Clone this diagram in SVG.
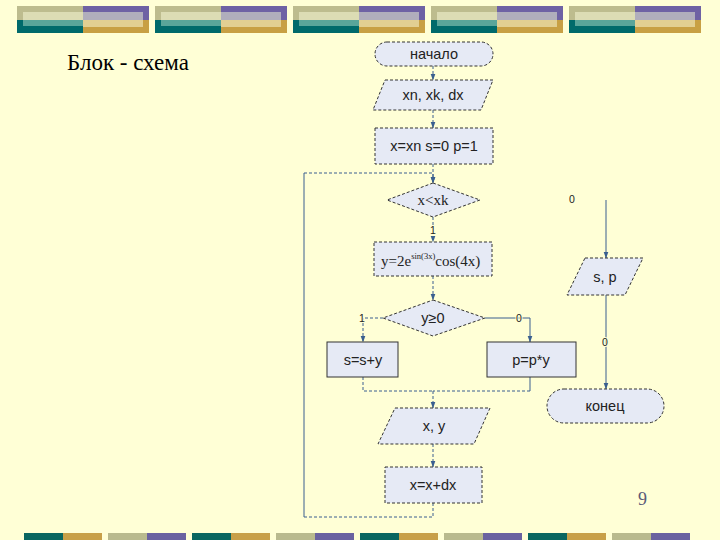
<svg xmlns="http://www.w3.org/2000/svg" width="720" height="540" viewBox="0 0 720 540">
<style>
.node{fill:#E6EAF5;stroke:#333;stroke-width:1;stroke-dasharray:3,2}
.solidnode{fill:#E6EAF5;stroke:#333;stroke-width:1}
.t{font-family:"Liberation Sans",Arial,sans-serif;font-size:14.5px;fill:#222;text-anchor:middle}
.ts{font-family:"Liberation Serif","Times New Roman",serif;font-size:15px;fill:#222}
.lbl{font-family:"Liberation Sans",Arial,sans-serif;font-size:10.5px;fill:#222;text-anchor:middle;paint-order:stroke;stroke:#FFFFD6;stroke-width:2}
.c{fill:none;stroke:#3A5F8F;stroke-width:1}
.d{stroke-dasharray:3,2}
</style>
<defs>
<marker id="arr" markerWidth="7" markerHeight="6" refX="6.5" refY="3" orient="auto" markerUnits="userSpaceOnUse" viewBox="0 0 7 6">
<path d="M0,0.5 L7,3 L0,5.5 Z" fill="#3A5F8F"/>
</marker>
<g id="topbar">
<rect x="0" y="6" width="66" height="14" fill="#BDBC8E"/>
<rect x="0" y="20" width="66" height="13" fill="#006A6B"/>
<rect x="66" y="6" width="66" height="14" fill="#6E62A4"/>
<rect x="66" y="20" width="66" height="13" fill="#C8A044"/>
<rect x="6" y="12" width="60" height="8" fill="#DCDCB4"/>
<rect x="6" y="20" width="60" height="6" fill="#5AA59A"/>
<rect x="66" y="12" width="60" height="8" fill="#B0AEBC"/>
<rect x="66" y="20" width="60" height="7" fill="#E2CF92"/>
</g>
<g id="botA">
<rect x="0" y="533" width="39" height="7" fill="#0A6660"/>
<rect x="39" y="533" width="39" height="7" fill="#C8A048"/>
</g>
<g id="botB">
<rect x="0" y="533" width="39" height="7" fill="#B9BA8E"/>
<rect x="39" y="533" width="39" height="7" fill="#6A62A0"/>
</g>
</defs>
<rect width="720" height="540" fill="#FFFFD6"/>
<g id="decor">
<use href="#topbar" x="17"/>
<use href="#topbar" x="155"/>
<use href="#topbar" x="293"/>
<use href="#topbar" x="431"/>
<use href="#topbar" x="569"/>
<use href="#botA" x="24"/>
<use href="#botB" x="108"/>
<use href="#botA" x="192"/>
<use href="#botB" x="276"/>
<use href="#botA" x="360"/>
<use href="#botB" x="444"/>
<use href="#botA" x="528"/>
<use href="#botB" x="612"/>
</g>
<text x="67" y="70" font-family="Liberation Serif,'Times New Roman',serif" font-size="23" fill="#000">Блок - схема</text>
<text x="638" y="505" font-family="Liberation Serif,'Times New Roman',serif" font-size="18" fill="#5A5A78">9</text>

<g id="connectors">
<path class="c d" d="M433,66 V80" marker-end="url(#arr)"/>
<path class="c d" d="M433,110 V128" marker-end="url(#arr)"/>
<path class="c d" d="M433,164 V183" marker-end="url(#arr)"/>
<path class="c d" d="M433,503 V517 H304"/>
<path class="c" d="M304,517 V173"/>
<path class="c d" d="M304,173 H433 V183" marker-end="url(#arr)"/>
<path class="c d" d="M433,217 V242" marker-end="url(#arr)"/>
<path class="c d" d="M433,276 V300" marker-end="url(#arr)"/>
<path class="c d" d="M383,318 H363 V342" marker-end="url(#arr)"/>
<path class="c" d="M485,318 H530 V342" marker-end="url(#arr)"/>
<path class="c d" d="M363,377 V391 H433"/>
<path class="c" d="M530,377 V391"/>
<path class="c d" d="M530,391 H433"/>
<path class="c d" d="M433,391 V408" marker-end="url(#arr)"/>
<path class="c d" d="M433,444 V467" marker-end="url(#arr)"/>
<path class="c" d="M606,200 V258" marker-end="url(#arr)"/>
<path class="c" d="M606,295 V389" marker-end="url(#arr)"/>
<text class="lbl" x="433" y="234">1</text>
<text class="lbl" x="362" y="322">1</text>
<text class="lbl" x="519" y="322">0</text>
<text class="lbl" x="572" y="203">0</text>
<text class="lbl" x="605" y="346">0</text>
</g>

<g id="start">
<rect class="node" x="375" y="42" width="118" height="24" rx="12"/>
<text class="t" x="434" y="59">начало</text>
</g>
<g id="input">
<polygon class="node" points="385,80 493,80 481,110 373,110"/>
<text class="t" x="433" y="100">xn, xk, dx</text>
</g>
<g id="init">
<rect class="node" x="375" y="128" width="118" height="36"/>
<text class="t" x="434" y="151">x=xn s=0 p=1</text>
</g>
<g id="cond1">
<polygon class="node" points="433,183 480,200 433,217 387,200"/>
<text class="ts" x="433" y="205" text-anchor="middle" font-size="16">x&lt;xk</text>
</g>
<g id="calc">
<rect class="node" x="374" y="242" width="118" height="34"/>
<text class="ts" x="381" y="266">y=2e<tspan dy="-7" font-size="8.5">sin(3x)</tspan><tspan dy="7">cos(4x)</tspan></text>
</g>
<g id="cond2">
<polygon class="node" points="433,300 485,318 433,336 383,318"/>
<text class="t" x="433" y="323">y≥0</text>
</g>
<g id="sum">
<rect class="solidnode" x="327" y="342" width="71" height="35"/>
<text class="t" x="363" y="365">s=s+y</text>
</g>
<g id="prod">
<rect class="solidnode" x="487" y="342" width="89" height="35"/>
<text class="t" x="531" y="365">p=p*y</text>
</g>
<g id="outxy">
<polygon class="node" points="395,408 490,408 474,444 378,444"/>
<text class="t" x="434" y="431">x, y</text>
</g>
<g id="step">
<rect class="node" x="385" y="467" width="97" height="36"/>
<text class="t" x="433" y="490">x=x+dx</text>
</g>
<g id="outsp">
<polygon class="node" points="585,258 643,258 625,295 567,295"/>
<text class="t" x="605" y="282">s, p</text>
</g>
<g id="end">
<rect class="node" x="547" y="389" width="117" height="34" rx="17"/>
<text class="t" x="605" y="411">конец</text>
</g>
</svg>
